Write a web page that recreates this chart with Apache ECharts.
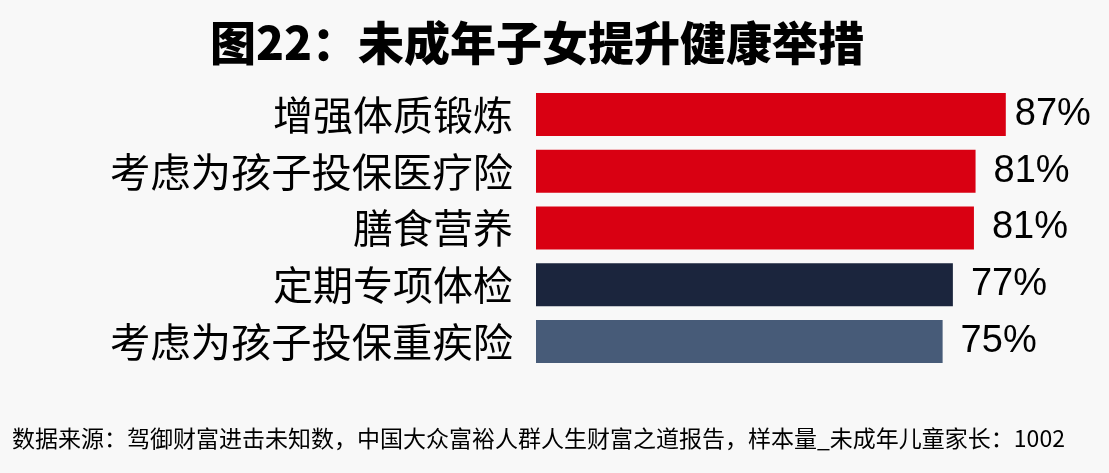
<!DOCTYPE html>
<html>
<head>
<meta charset="utf-8">
<script src="https://cdn.jsdelivr.net/npm/echarts@6/dist/echarts.min.js"></script>
<style>
html,body{margin:0;padding:0;background:#f8f8f8;}
#c{width:1109px;height:473px;}
</style>
</head>
<body>
<div id="c"></div>
<script>
const titleText = '图22：未成年子女提升健康举措';
const sourceText = '数据来源：驾御财富进击未知数，中国大众富裕人群人生财富之道报告，样本量_未成年儿童家长：1002';
const categories = ['增强体质锻炼','考虑为孩子投保医疗险','膳食营养','定期专项体检','考虑为孩子投保重疾险'];
const values = [87.0, 81.4, 81.1, 77.2, 75.3];
const barColors = ['#d90012','#d90012','#d90012','#1b253d','#475b78'];

const chart = echarts.init(document.getElementById('c'));
chart.setOption({
  backgroundColor:'#f8f8f8',
  animation:false,
  title:{
    text:titleText,
    left:532, textAlign:'center',
    top:15,
    textStyle:{fontFamily:'Noto Sans CJK SC',fontWeight:900,fontSize:46,color:'#000'}
  },
  graphic:[{
    type:'text',
    left:12, top:427,
    style:{text:sourceText,font:'23px "Noto Sans CJK SC"',fill:'#000'}
  }],
  grid:{left:536,width:540,top:86,height:284},
  xAxis:{type:'value',min:0,max:100,show:false},
  yAxis:{
    type:'category',
    data:categories,
    inverse:true,
    axisLine:{show:false},
    axisTick:{show:false},
    axisLabel:{
      margin:23,
      color:'#000',
      fontFamily:'Noto Sans CJK SC',
      fontSize:40,
      formatter:function(v){ return v.length>7 ? '{l|'+v+'}' : v; },
      rich:{l:{fontSize:40.3,fontFamily:'Noto Sans CJK SC',color:'#000'}}
    }
  },
  series:[{
    type:'bar',
    data:values.map((v,i)=>({value:v,itemStyle:{color:barColors[i]},label:{distance:i===0?9:18}})),
    barWidth:43,
    label:{
      show:true,
      position:'right',
      distance:14,
      color:'#000',
      fontFamily:'Liberation Sans',
      fontSize:38,
      formatter:function(p){ return Math.round(p.value)+'%'; }
    }
  }]
});
</script>
</body>
</html>
